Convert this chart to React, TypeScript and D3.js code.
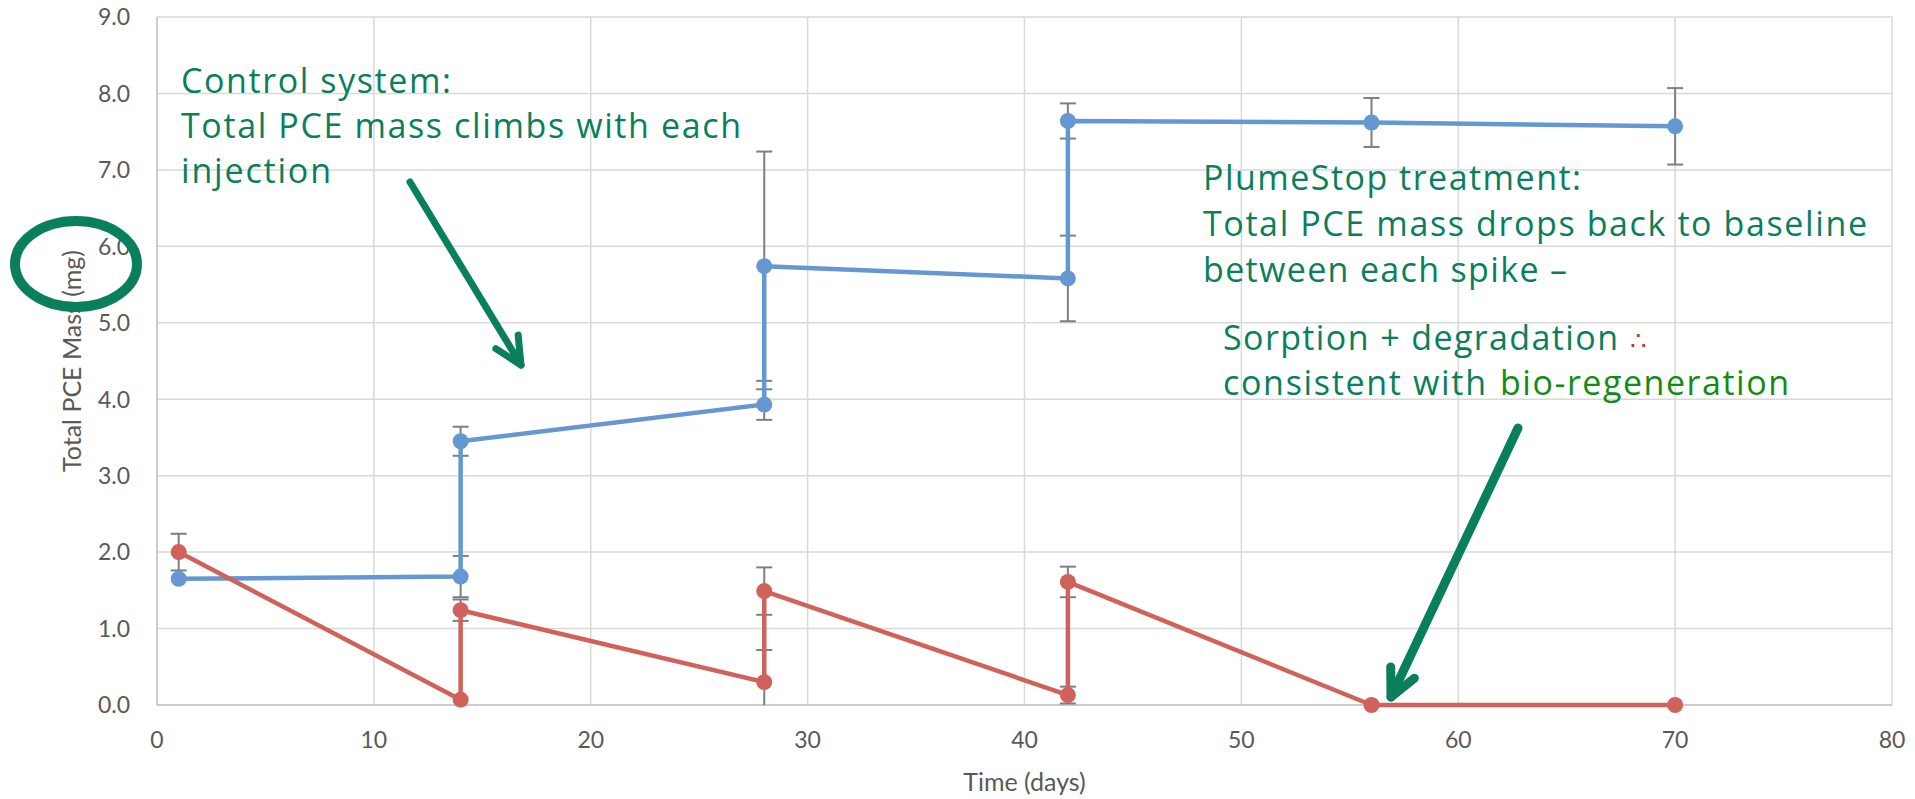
import React from 'react'
import * as d3 from 'd3'

// sampling days (vertical jumps = repeated day, before / after each injection)
const days = [1, 14, 14, 28, 28, 42, 42, 56, 70]
const controlMass = [1.65, 1.68, 3.45, 3.93, 5.74, 5.58, 7.64, 7.62, 7.57]
const controlErr = [0, 0.27, 0.19, 0.2, 1.5, 0.56, 0.23, 0.32, 0.5]
const plumeMass = [2.0, 0.07, 1.24, 0.3, 1.49, 0.13, 1.61, 0, 0]
const plumeErr = [0.24, 0, 0.14, 0.42, 0.31, 0.11, 0.2, 0, 0]

const xTicks = [0, 10, 20, 30, 40, 50, 60, 70, 80]
const yTicks = [0, 1, 2, 3, 4, 5, 6, 7, 8, 9]

const W = 1915
const H = 799
const margin = { left: 157, right: 23, top: 17, bottom: 94 }

const BLUE = '#6598d2'
const RED = '#d0625b'
const GREEN = '#0a7f5c'
const BRIGHT_GREEN = '#138c13'
const GRID = '#d9d9d9'
const LABEL = '#595959'

const x = d3.scaleLinear().domain([0, 80]).range([margin.left, W - margin.right])
const y = d3.scaleLinear().domain([0, 9]).range([H - margin.bottom, margin.top])

type Pt = { day: number; v: number; e: number }

const toPts = (vals: number[], errs: number[]): Pt[] =>
  days.map((d, i) => ({ day: d, v: vals[i], e: errs[i] }))

const line = d3
  .line<Pt>()
  .x((d) => x(d.day))
  .y((d) => y(d.v))

const ErrorBars: React.FC<{ pts: Pt[] }> = ({ pts }) => (
  <g stroke="#7f7f7f" strokeWidth={2}>
    {pts
      .filter((p) => p.e > 0)
      .map((p, i) => {
        const lo = Math.max(0, p.v - p.e)
        const hi = p.v + p.e
        const cx = x(p.day)
        return (
          <g key={i}>
            <line x1={cx} x2={cx} y1={y(lo)} y2={y(hi)} />
            <line x1={cx - 8} x2={cx + 8} y1={y(hi)} y2={y(hi)} />
            {p.v - p.e >= 0 && (
              <line x1={cx - 8} x2={cx + 8} y1={y(lo)} y2={y(lo)} />
            )}
          </g>
        )
      })}
  </g>
)

const Series: React.FC<{ pts: Pt[]; color: string }> = ({ pts, color }) => (
  <g>
    <path d={line(pts) ?? ''} fill="none" stroke={color} strokeWidth={4.5} strokeLinejoin="round" />
    {pts.map((p, i) => (
      <circle key={i} cx={x(p.day)} cy={y(p.v)} r={8} fill={color} />
    ))}
  </g>
)

const Arrow: React.FC<{ from: [number, number]; to: [number, number]; width: number }> = ({
  from,
  to,
  width,
}) => {
  const ang = Math.atan2(to[1] - from[1], to[0] - from[0])
  const len = 30
  const spread = 0.45
  const b1: [number, number] = [to[0] - len * Math.cos(ang - spread), to[1] - len * Math.sin(ang - spread)]
  const b2: [number, number] = [to[0] - len * Math.cos(ang + spread), to[1] - len * Math.sin(ang + spread)]
  return (
    <g stroke={GREEN} strokeWidth={width} strokeLinecap="round" strokeLinejoin="round" fill="none">
      <line x1={from[0]} y1={from[1]} x2={to[0]} y2={to[1]} />
      <polyline points={`${b1.join(',')} ${to.join(',')} ${b2.join(',')}`} />
    </g>
  )
}

const note = { fontFamily: "'Comic Sans MS', 'Open Sans', sans-serif", fontSize: 34, fill: GREEN }

export default function App() {
  const control = toPts(controlMass, controlErr)
  const plume = toPts(plumeMass, plumeErr)
  const [x0, x1] = x.range()
  const [y0, y1] = y.range()

  return (
    <svg
      width={W}
      height={H}
      style={{ position: 'fixed', left: 0, top: 0, background: '#fff' }}
    >
      {/* grid */}
      <g stroke={GRID} strokeWidth={1.5}>
        {yTicks.map((t) => (
          <line key={'h' + t} x1={x0} x2={x1} y1={y(t)} y2={y(t)} />
        ))}
        {xTicks.map((t) => (
          <line key={'v' + t} x1={x(t)} x2={x(t)} y1={y0} y2={y1} />
        ))}
      </g>
      <g stroke="#c4c4c4" strokeWidth={1.5}>
        <line x1={x0} x2={x1} y1={y0} y2={y0} />
        <line x1={x0} x2={x0} y1={y0} y2={y1} />
      </g>

      {/* tick labels */}
      <g fontFamily="Lato, 'Open Sans', sans-serif" fontSize={23} fill={LABEL}>
        {yTicks.map((t) => (
          <text key={t} x={x0 - 27} y={y(t)} dy="0.36em" textAnchor="end">
            {d3.format('.1f')(t)}
          </text>
        ))}
        {xTicks.map((t) => (
          <text key={t} x={x(t)} y={748} textAnchor="middle">
            {t}
          </text>
        ))}
      </g>
      <text
        x={(x0 + x1) / 2}
        y={791}
        textAnchor="middle"
        fontFamily="Lato, 'Open Sans', sans-serif"
        fontSize={25}
        fill={LABEL}
      >
        Time (days)
      </text>
      <text
        transform={`translate(81, ${(y0 + y1) / 2}) rotate(-90)`}
        textAnchor="middle"
        fontFamily="Lato, 'Open Sans', sans-serif"
        fontSize={25}
        fill={LABEL}
      >
        Total PCE Mass (mg)
      </text>

      {/* data */}
      <ErrorBars pts={control} />
      <ErrorBars pts={plume} />
      <Series pts={control} color={BLUE} />
      <Series pts={plume} color={RED} />

      {/* annotations */}
      <ellipse cx={76} cy={264} rx={61} ry={43} fill="none" stroke={GREEN} strokeWidth={10} />

      <g {...note}>
        <text x={181} y={93} textLength={270}>Control system:</text>
        <text x={181} y={138} textLength={560}>Total PCE mass climbs with each</text>
        <text x={181} y={183} textLength={150}>injection</text>

        <text x={1203} y={190} textLength={378}>PlumeStop treatment:</text>
        <text x={1203} y={236} textLength={664}>Total PCE mass drops back to baseline</text>
        <text x={1203} y={282} textLength={364}>between each spike –</text>

        <text x={1223} y={350} textLength={395}>Sorption + degradation</text>
        <text x={1630} y={350} fill="#c0392b" fontSize={26}>∴</text>
        <text x={1223} y={395} textLength={263}>consistent with</text>
        <text x={1500} y={395} textLength={289} fill={BRIGHT_GREEN}>bio-regeneration</text>
      </g>

      <Arrow from={[410, 182]} to={[521, 365]} width={7} />
      <Arrow from={[1518, 428]} to={[1391, 697]} width={9} />
    </svg>
  )
}
